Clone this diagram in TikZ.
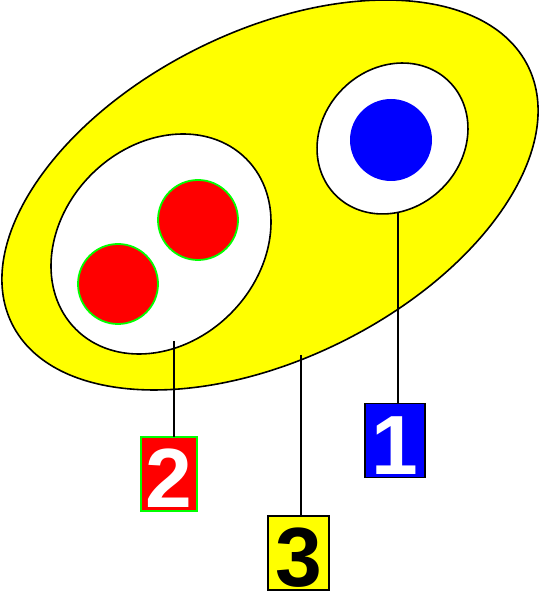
\documentclass[tikz,border=0pt]{standalone}
\usepackage{fontspec}
\setmainfont{Liberation Sans}
\usetikzlibrary{shapes.geometric}
\definecolor{pyellow}{RGB}{255,255,0}
\definecolor{pred}{RGB}{255,0,0}
\definecolor{pgreen}{RGB}{0,255,0}
\definecolor{pblue}{RGB}{0,0,255}
\begin{document}
\begin{tikzpicture}[x=1pt,y=1pt,
  outline/.style={draw=black,line width=1.6pt},
  blob/.style={ellipse,inner sep=0pt,outer sep=0pt},
  dot/.style={circle,inner sep=0pt,outer sep=0pt,minimum size=80pt},
  labelbox/.style={rectangle,inner sep=0pt,outer sep=0pt,line width=1.4pt,
    font=\fontsize{84}{84}\selectfont\bfseries,text height=71pt,text depth=3pt},
  leader/.style={draw=black,line width=1.6pt}]
\useasboundingbox (0,0) rectangle (539,597);
% big yellow ellipse
\node (big) [blob,outline,fill=pyellow,minimum width=576.8pt,minimum height=326.8pt,rotate=26.6] at (270,402) {};
% right inner ellipse
\node (right) [blob,outline,fill=white,minimum width=160.6pt,minimum height=140.6pt,rotate=45] at (392.5,458.5) {};
% left inner ellipse
\node (left) [blob,outline,fill=white,minimum width=241pt,minimum height=196.8pt,rotate=45] at (161,353) {};
% dots
\node (red1) [dot,fill=pred,draw=pgreen,line width=1.8pt] at (198,377) {};
\node (red2) [dot,fill=pred,draw=pgreen,line width=1.8pt] at (118,313) {};
\node (blue) [dot,fill=pblue,minimum size=82pt] at (391,457) {};
% label boxes
\node (lab2) [labelbox,fill=pred,draw=pgreen,text=white,minimum width=56pt] at (169,123) {2};
\node (lab3) [labelbox,fill=pyellow,draw=black,text=black,minimum width=61pt] at (298.5,44) {3};
\node (lab1) [labelbox,fill=pblue,draw=black,text=white,minimum width=60pt] at (395,156.5) {1};
% leader start points
\coordinate (p2) at (174,256);
\coordinate (p3) at (301,242);
\coordinate (p1) at (398,385);
\draw[leader] (p2) -- (p2 |- lab2.north);
\draw[leader] (p3) -- (p3 |- lab3.north);
\draw[leader] (p1) -- (p1 |- lab1.north);
\end{tikzpicture}
\end{document}
